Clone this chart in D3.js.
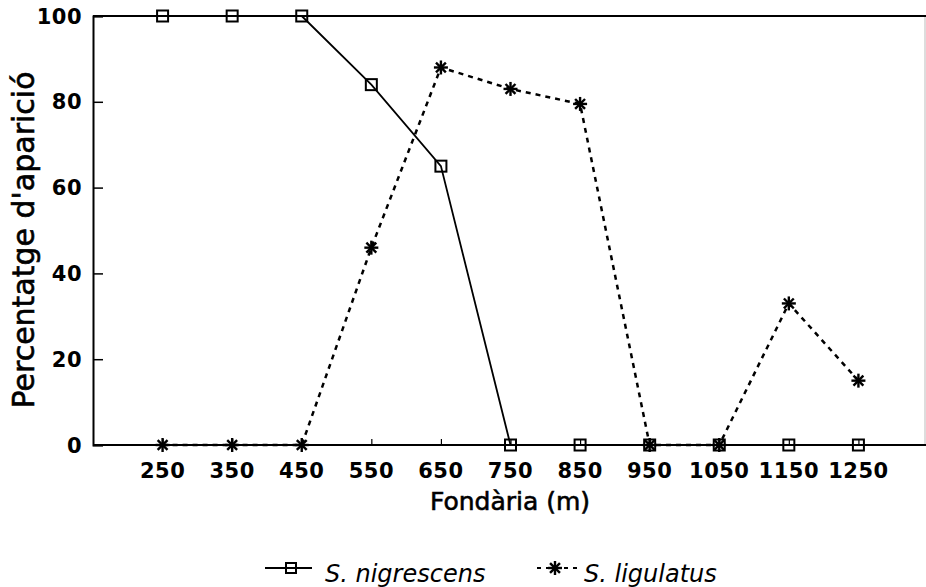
<!DOCTYPE html>
<html lang="ca">
<head>
<meta charset="UTF-8">
<title>Percentatge d'aparició</title>
<style>
  * { margin: 0; padding: 0; }
  body { background: #fff; }
  svg { display: block; font-family: "DejaVu Sans", sans-serif; }
  .tick-label { font-weight: bold; font-size: 21px; letter-spacing: 0.5px; fill: #000; }
  .title { fill: #000; stroke: #000; stroke-width: 0.6px; }
</style>
</head>
<body>
<div id="chart"></div>
<script src="https://cdn.jsdelivr.net/npm/d3@7/dist/d3.min.js"></script>
<script>
"use strict";

// depths (m)
var depths = [250, 350, 450, 550, 650, 750, 850, 950, 1050, 1150, 1250];
var nigrescens = [100, 100, 100, 84, 65, 0, 0, 0, 0, 0, 0];
var ligulatus = [0, 0, 0, 46, 88, 83, 79.5, 0, 0, 33, 15];
var yTicks = [0, 20, 40, 60, 80, 100];

(function() {

var width = 926, height = 587;
var plot = { left: 93, right: 928, top: 16, bottom: 445 };

var svg = d3.select('#chart').append('svg')
    .attr('width', width)
    .attr('height', height);

var x = d3.scaleLinear().domain([150, 1350]).range([plot.left, plot.right]);
var y = d3.scaleLinear().domain([0, 100]).range([plot.bottom, plot.top]);

// frame
svg.append('line').attr('x1', 925).attr('x2', 925).attr('y1', plot.top).attr('y2', plot.bottom)
    .attr('stroke', '#bbb').attr('stroke-width', 1);
svg.append('line').attr('x1', plot.left).attr('x2', width).attr('y1', plot.top).attr('y2', plot.top)
    .attr('stroke', '#000').attr('stroke-width', 2);

// y axis: inward ticks, labels drawn separately
var yAxis = d3.axisRight(y).tickValues(yTicks).tickSize(10).tickFormat('');
var gy = svg.append('g').attr('transform', 'translate(' + plot.left + ',0)').call(yAxis);
gy.select('.domain').attr('stroke-width', 2);
gy.selectAll('.tick line').attr('stroke-width', 1.5);

svg.selectAll('.ylab').data(yTicks).enter().append('text')
    .attr('class', 'tick-label')
    .attr('x', 82)
    .attr('y', function(d) { return y(d); })
    .attr('dy', '0.36em')
    .attr('text-anchor', 'end')
    .text(function(d) { return d; });

// x axis: small inward ticks
var xAxis = d3.axisTop(x).tickValues(depths).tickSize(6).tickFormat('');
var gx = svg.append('g').attr('transform', 'translate(0,' + plot.bottom + ')').call(xAxis);
gx.select('.domain').attr('stroke-width', 2).attr('d', 'M' + plot.left + ',0H' + width);
gx.selectAll('.tick line').attr('stroke-width', 1.2);

svg.selectAll('.xlab').data(depths).enter().append('text')
    .attr('class', 'tick-label')
    .attr('x', function(d) { return x(d); })
    .attr('y', 478)
    .attr('text-anchor', 'middle')
    .text(function(d) { return d; });

// axis titles
svg.append('text')
    .attr('class', 'title')
    .attr('x', 510).attr('y', 510)
    .attr('text-anchor', 'middle')
    .attr('font-size', 25)
    .text('Fondària (m)');

svg.append('text')
    .attr('class', 'title')
    .attr('transform', 'translate(34,240) rotate(-90)')
    .attr('text-anchor', 'middle')
    .attr('font-size', 30)
    .text("Percentatge d'aparició");

// series lines
var pts = function(vals) {
    return depths.map(function(d, i) { return [x(d), y(vals[i])]; });
};
var line = d3.line();

svg.append('path')
    .attr('d', line(pts(nigrescens)))
    .attr('fill', 'none')
    .attr('stroke', '#000')
    .attr('stroke-width', 1.8);

svg.append('path')
    .attr('d', line(pts(ligulatus)))
    .attr('fill', 'none')
    .attr('stroke', '#000')
    .attr('stroke-width', 2.5)
    .attr('stroke-dasharray', '5,5');

// markers
function star(g, cx, cy, r) {
    [0, 45, 90, 135].forEach(function(a) {
        var rad = a * Math.PI / 180;
        g.append('line')
            .attr('x1', cx - r * Math.cos(rad)).attr('y1', cy - r * Math.sin(rad))
            .attr('x2', cx + r * Math.cos(rad)).attr('y2', cy + r * Math.sin(rad))
            .attr('stroke', '#000').attr('stroke-width', 2.4);
    });
}
function square(g, cx, cy, s) {
    g.append('rect')
        .attr('x', cx - s / 2).attr('y', cy - s / 2)
        .attr('width', s).attr('height', s)
        .attr('fill', 'none').attr('stroke', '#000').attr('stroke-width', 2);
}

var mk = svg.append('g');
pts(ligulatus).forEach(function(p) { star(mk, p[0], p[1], 7); });
pts(nigrescens).forEach(function(p) { square(mk, p[0], p[1], 11); });

// legend
var lg = svg.append('g');
lg.append('line').attr('x1', 265).attr('x2', 312).attr('y1', 568).attr('y2', 568)
    .attr('stroke', '#000').attr('stroke-width', 1.8);
square(lg, 291, 568, 10);
lg.append('text').attr('x', 325).attr('y', 582)
    .attr('font-size', 24).attr('font-style', 'italic')
    .text('S. nigrescens');

lg.append('line').attr('x1', 537).attr('x2', 577).attr('y1', 568).attr('y2', 568)
    .attr('stroke', '#000').attr('stroke-width', 2.2).attr('stroke-dasharray', '4,5');
star(lg, 555, 568, 7);
lg.append('text').attr('x', 584).attr('y', 582)
    .attr('font-size', 24).attr('font-style', 'italic')
    .text('S. ligulatus');

})();
</script>
</body>
</html>
